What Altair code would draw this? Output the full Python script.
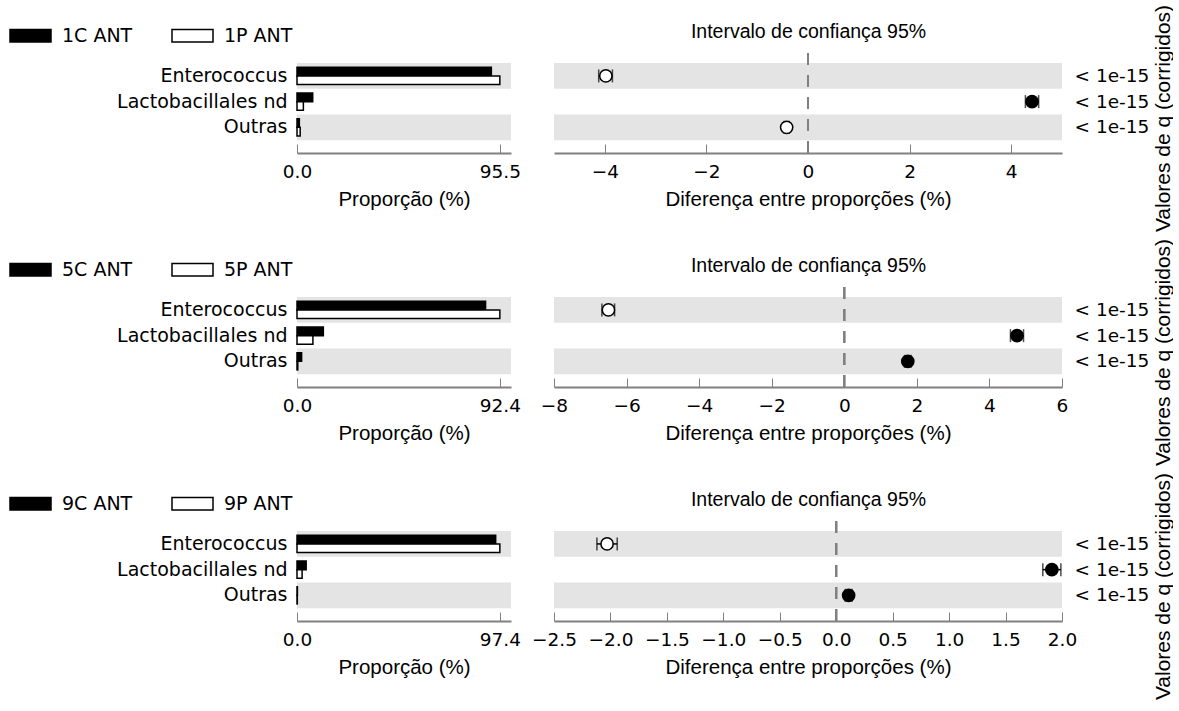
import altair as alt
import pandas as pd

# ---------------- data ----------------
categorias = ["Enterococcus", "Lactobacillales nd", "Outras"]
grupo_C = ["1C ANT", "5C ANT", "9C ANT"]
grupo_P = ["1P ANT", "5P ANT", "9P ANT"]

prop_C = [[91.5, 7.4, 1.1], [85.9, 12.0, 2.1], [95.4, 4.4, 0.2]]
prop_P = [[95.5, 3.0, 1.5], [92.4, 7.25, 0.35], [97.4, 2.45, 0.15]]

diferenca = [[-3.98, 4.41, -0.42], [-6.50, 4.76, 1.75], [-2.03, 1.91, 0.11]]
ic_inf = [[-4.12, 4.28, -0.47], [-6.68, 4.58, 1.66], [-2.12, 1.83, 0.08]]
ic_sup = [[-3.85, 4.54, -0.37], [-6.33, 4.94, 1.84], [-1.94, 1.99, 0.14]]

valores_q = [["< 1e-15", "< 1e-15", "< 1e-15"],
             ["< 1e-15", "< 1e-15", "< 1e-15"],
             ["< 1e-15", "< 1e-15", "< 1e-15"]]

dominio_dif = [[-5, 5], [-8, 6], [-2.5, 2.0]]
ticks_dif = [[-4, -2, 0, 2, 4],
             [-8, -6, -4, -2, 0, 2, 4, 6],
             [-2.5, -2.0, -1.5, -1.0, -0.5, 0.0, 0.5, 1.0, 1.5, 2.0]]
formato_dif = ["d", "d", ".1f"]

# ---------------- style ----------------
F_TICK = "DejaVu Sans"
F_TIT = "Liberation Sans"
CINZA_EIXO = "#808080"
CINZA_FAIXA = "#e4e4e4"
W_ESQ, W_DIR, H = 214, 508, 100
FS_LAB = 19
FS_TICK = 18.5


def y_scale():
    return alt.Scale(domain=categorias, paddingInner=0, paddingOuter=0.445, align=0.44)


def painel_esq(i):
    df = pd.DataFrame({
        "cat": categorias * 2,
        "grupo": [grupo_C[i]] * 3 + [grupo_P[i]] * 3,
        "pos": [0] * 3 + [1] * 3,
        "prop": prop_C[i] + prop_P[i],
    })
    pmax = max(prop_C[i] + prop_P[i])
    xs = alt.Scale(domain=[0, pmax * 1.055], nice=False, zero=False)
    yax = alt.Axis(orient="left", domain=False, ticks=False, labelPadding=10,
                   labelFont=F_TICK, labelFontSize=FS_LAB, labelColor="black", title=None)
    y = alt.Y("cat:N", scale=y_scale(), axis=yax)

    faixas = alt.Chart(pd.DataFrame({"cat": [categorias[0], categorias[2]]})).mark_rect(
        color=CINZA_FAIXA
    ).encode(
        y=y,
        x=alt.XDatum(0, type="quantitative", scale=xs,
                     axis=alt.Axis(orient="top", offset=-H, values=[0, pmax], domain=False,
                                   labels=False, ticks=True, tickSize=9, tickColor=CINZA_EIXO,
                                   tickWidth=1, grid=False, title=None)),
        x2=alt.X2Datum(pmax * 1.055),
    )

    barras = alt.Chart(df).mark_bar(stroke="black", strokeWidth=1.5).encode(
        y=y,
        yOffset=alt.YOffset("pos:O", scale=alt.Scale(paddingInner=0, paddingOuter=0.5)),
        x=alt.X("prop:Q", scale=xs,
                axis=alt.Axis(orient="bottom", values=[0, pmax], format=".1f",
                              domainColor=CINZA_EIXO, domainWidth=2, ticks=False, tickSize=0,
                              labelPadding=9, labelFont=F_TICK, labelFontSize=FS_TICK,
                              labelColor="black", labelFlush=False, grid=False,
                              title="Proporção (%)", titleFont=F_TIT, titleFontSize=20.5,
                              titleFontWeight="normal", titleColor="black", titlePadding=9)),
        fill=alt.Fill("grupo:N",
                      scale=alt.Scale(domain=[grupo_C[i], grupo_P[i]], range=["black", "white"]),
                      legend=alt.Legend(orient="none", legendX=-288, legendY=-39,
                                        direction="horizontal", title=None,
                                        symbolType="M-1,-0.3H1V0.3H-1Z", symbolSize=1681,
                                        symbolStrokeColor="black", symbolStrokeWidth=1.5,
                                        labelFont=F_TICK, labelFontSize=FS_LAB, labelColor="black",
                                        labelOffset=10, columnPadding=36)),
    )
    return alt.layer(faixas, barras).resolve_axis(x="independent").properties(width=W_ESQ, height=H)


def painel_dir(i):
    df = pd.DataFrame({"cat": categorias, "dif": diferenca[i], "lo": ic_inf[i], "hi": ic_sup[i]})
    d0, d1 = dominio_dif[i]
    xs = alt.Scale(domain=[d0, d1], nice=False, zero=False)
    arr_q = "[" + ",".join("'%s'" % q for q in valores_q[i]) + "]"
    arr_c = "[" + ",".join("'%s'" % c for c in categorias) + "]"
    yax = alt.Axis(orient="right", domain=False, ticks=False,
                   labelExpr=f"{arr_q}[indexof({arr_c}, datum.value)]",
                   labelPadding=12, labelFont=F_TICK, labelFontSize=FS_TICK, labelColor="black",
                   labelAlign="left",
                   title="Valores de q (corrigidos)", titleAngle=270, titleFont=F_TIT,
                   titleFontSize=21, titleFontWeight="normal", titleColor="black",
                   titleX=101, titleY=65, titleBaseline="middle", titleAlign="center")
    y = alt.Y("cat:N", scale=y_scale(), axis=yax)

    faixas = alt.Chart(pd.DataFrame({"cat": [categorias[0], categorias[2]]})).mark_rect(
        color=CINZA_FAIXA
    ).encode(
        y=y,
        x=alt.XDatum(d0, type="quantitative", scale=xs,
                     axis=alt.Axis(orient="top", offset=-H, values=ticks_dif[i], domain=False,
                                   labels=False, ticks=True, tickSize=9, tickColor=CINZA_EIXO,
                                   tickWidth=1, grid=False,
                                   title="Intervalo de confiança 95%", titleFont=F_TIT,
                                   titleFontSize=19.5, titleFontWeight="normal",
                                   titleColor="black", titleX=W_DIR / 2, titleY=-116,
                                   titleAlign="center", titleBaseline="alphabetic")),
        x2=alt.X2Datum(d1),
    )
    zero = alt.Chart(df).mark_rule(color=CINZA_EIXO, strokeWidth=2, strokeDash=[12, 10]).encode(
        x=alt.XDatum(0, type="quantitative", axis=None)
    )
    erro = alt.Chart(df).mark_rule(color="black", strokeWidth=1.5).encode(
        y=y,
        x=alt.X("lo:Q", scale=xs,
                axis=alt.Axis(orient="bottom", values=ticks_dif[i], format=formato_dif[i],
                              domainColor=CINZA_EIXO, domainWidth=2, ticks=False, tickSize=0,
                              labelPadding=9, labelFont=F_TICK, labelFontSize=FS_TICK,
                              labelColor="black", labelFlush=False, labelOverlap=False,
                              grid=False,
                              title="Diferença entre proporções (%)", titleFont=F_TIT,
                              titleFontSize=20.5, titleFontWeight="normal",
                              titleColor="black", titlePadding=9)),
        x2="hi:Q",
    )
    cap_lo = alt.Chart(df).mark_tick(color="black", size=13, thickness=1.5).encode(
        y=y, x=alt.X("lo:Q", axis=None))
    cap_hi = alt.Chart(df).mark_tick(color="black", size=13, thickness=1.5).encode(
        y=y, x=alt.X("hi:Q", axis=None))
    pontos = alt.Chart(df).mark_circle(size=150, stroke="black", strokeWidth=1.5, opacity=1).encode(
        y=y,
        x=alt.X("dif:Q", axis=None),
        fill=alt.condition("datum.dif > 0", alt.value("black"), alt.value("white")),
    )
    return alt.layer(faixas, zero, erro, cap_lo, cap_hi, pontos).resolve_axis(
        x="independent").properties(width=W_DIR, height=H)


paineis = []
for i in range(3):
    paineis += [painel_esq(i), painel_dir(i)]

chart = alt.concat(
    *paineis, columns=2, spacing={"row": 134, "column": 43}, bounds="flush"
).resolve_scale(
    fill="independent", yOffset="independent", x="independent", y="independent"
).resolve_legend(fill="independent").properties(
    padding={"left": 9, "top": 4, "right": 0, "bottom": 0},
    background="white",
).configure_view(stroke=None)

chart.save("out.html", embed_options={"renderer": "svg", "actions": False})
